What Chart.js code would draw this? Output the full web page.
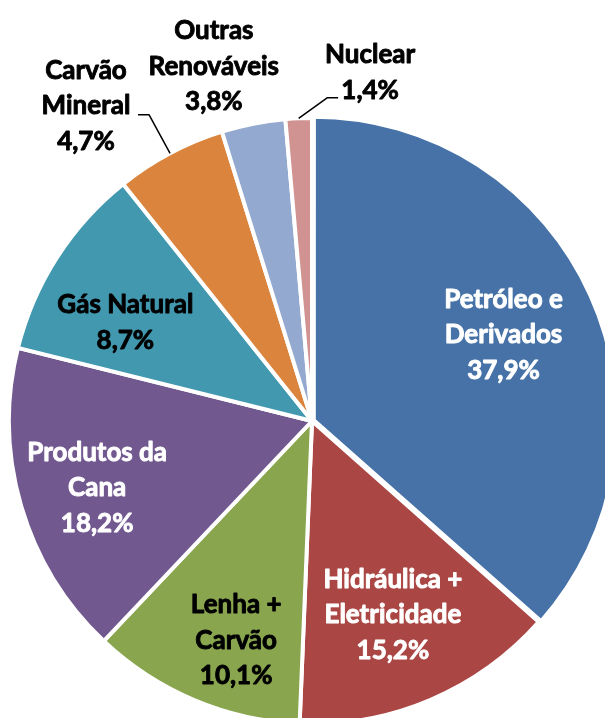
<!DOCTYPE html>
<html>
<head>
<meta charset="utf-8">
<style>
  html, body { margin: 0; padding: 0; background: #fff; overflow: hidden; width: 605px; height: 718px; }
  #wrap { position: absolute; left: 0; top: 0; width: 624px; height: 842px; }
</style>
<script src="https://cdn.jsdelivr.net/npm/chart.js@4/dist/chart.umd.min.js"></script>
</head>
<body>
<div id="wrap"><canvas id="myChart"></canvas></div>
<script>
'use strict'

// slice sizes as drawn in the picture (share of the circle, %)
const categories = ['Petróleo e Derivados', 'Hidráulica + Eletricidade', 'Lenha + Carvão', 'Produtos da Cana',
  'Gás Natural', 'Carvão Mineral', 'Outras Renováveis', 'Nuclear'];
const sliceShares = [36.5, 14.1, 11.4, 16.8, 10.4, 5.9, 3.4, 1.4];
// the percentages printed on the labels
const pctText = ['37,9%', '15,2%', '10,1%', '18,2%', '8,7%', '4,7%', '3,8%', '1,4%'];
const labelLines = [['Petróleo e', 'Derivados'], ['Hidráulica +', 'Eletricidade'], ['Lenha +', 'Carvão'],
  ['Produtos da', 'Cana'], ['Gás Natural'], ['Carvão', 'Mineral'], ['Outras', 'Renováveis'], ['Nuclear']];
const sliceColors = ['#4672A7', '#AA4643', '#89A54E', '#71588F', '#4198AF', '#DB843D', '#93A9CF', '#D19392'];

// label placement: distance from centre and angle nudge (deg) from the slice middle
const labelDist = [210, 210, 232, 225, 211, 388, 368, 353];
const labelNudge = [0, 0.4, -3.8, -1, -4.9, -7.7, -4.3, 12];
const labelColor = ['#fff', '#fff', '#000', '#fff', '#000', '#000', '#000', '#000'];
// leader lines (elbow and end, relative to label centre)
const leaders = {
  5: [[63, 9], [52, 9]],
  7: [[-43, 25], [-32, 25]]
};

const lineGap = 35.5;

const labelPlugin = {
  id: 'pieLabels',
  afterDatasetsDraw(chart) {
    const ctx = chart.ctx;
    const arcs = chart.getDatasetMeta(0).data;
    ctx.save();
    ctx.font = 'bold 26px Lato';
    ctx.textAlign = 'center';
    ctx.textBaseline = 'middle';
    ctx.lineJoin = 'round';
    for (let i = 0; i < arcs.length; i++) {
      let arc = arcs[i];
      let mid = (arc.startAngle + arc.endAngle) / 2;
      let a = mid + labelNudge[i] * Math.PI / 180;
      let cx = arc.x + Math.cos(a) * labelDist[i];
      let cy = arc.y + Math.sin(a) * labelDist[i];
      let lines = labelLines[i].concat([pctText[i]]);
      ctx.fillStyle = labelColor[i];
      ctx.strokeStyle = labelColor[i];
      ctx.lineWidth = 0.9;
      for (let j = 0; j < lines.length; j++) {
        let ty = cy + (j - (lines.length - 1) / 2) * lineGap;
        ctx.fillText(lines[j], cx, ty);
        ctx.strokeText(lines[j], cx, ty);
      }
      if (leaders[i]) {
        let ex = arc.x + Math.cos(mid) * arc.outerRadius;
        let ey = arc.y + Math.sin(mid) * arc.outerRadius;
        ctx.beginPath();
        ctx.moveTo(ex, ey);
        ctx.lineTo(cx + leaders[i][0][0], cy + leaders[i][0][1]);
        ctx.lineTo(cx + leaders[i][1][0], cy + leaders[i][1][1]);
        ctx.strokeStyle = '#000';
        ctx.lineWidth = 1.5;
        ctx.stroke();
      }
    }
    ctx.restore();
  }
};

const data = {
  labels: categories,
  datasets: [{
    data: sliceShares,
    backgroundColor: sliceColors,
    borderColor: '#fff',
    borderWidth: 4,
    offset: [8, 0, 0, 0, 0, 0, 0, 0]
  }]
};

const config = {
  type: 'pie',
  data: data,
  options: {
    responsive: true,
    maintainAspectRatio: false,
    animation: false,
    radius: 303,
    layout: { padding: 0 },
    plugins: {
      legend: { display: false },
      tooltip: { enabled: false }
    }
  },
  plugins: [labelPlugin]
};

let canvasChart = document.getElementById('myChart');
const myChart = new Chart(canvasChart, config);
</script>
</body>
</html>
